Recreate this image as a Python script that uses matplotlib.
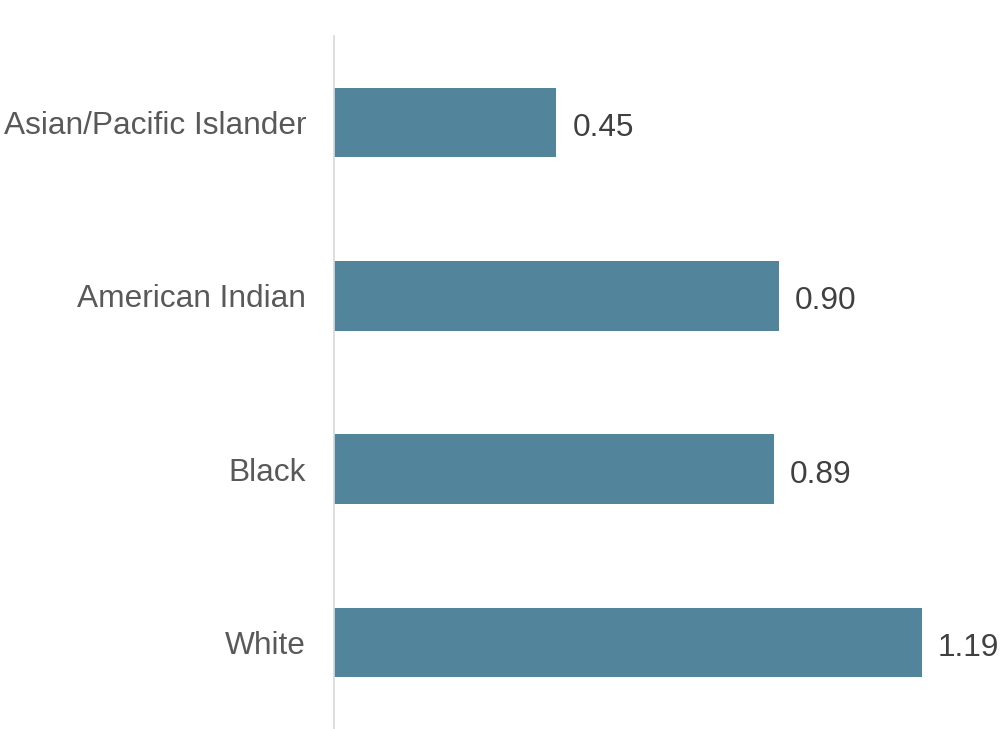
import matplotlib.pyplot as plt

categories = ["White", "Black", "American Indian", "Asian/Pacific Islander"]
values = [1.19, 0.89, 0.90, 0.45]
value_labels = ["1.19", "0.89", "0.90", "0.45"]

plt.rcParams["font.family"] = ["Liberation Sans", "DejaVu Sans"]

fig = plt.figure(figsize=(10.07, 7.29), dpi=100)
ax = fig.add_axes([334 / 1007, 0, 1 - 334 / 1007, (729 - 36) / 729])

pos = list(range(len(categories)))
ax.barh(pos, values, height=0.4, color="#52849c")

for y, v, lab in zip(pos, values, value_labels):
    ax.annotate(lab, xy=(v, y), xytext=(11.5, -4), textcoords="offset points",
                ha="left", va="center", fontsize=22.8, color="#404040")

ax.set_xlim(0, 1.362)
ax.set_ylim(-0.5, 3.5)
ax.set_yticks(pos)
ax.set_yticklabels(categories, fontsize=22.8, color="#595959")
ax.tick_params(axis="y", length=0, pad=20)
ax.set_xticks([])

for side in ["top", "right", "bottom"]:
    ax.spines[side].set_visible(False)
ax.spines["left"].set_color("#d9d9d9")
ax.spines["left"].set_linewidth(1.2)

fig.savefig("out.png", dpi=100)
